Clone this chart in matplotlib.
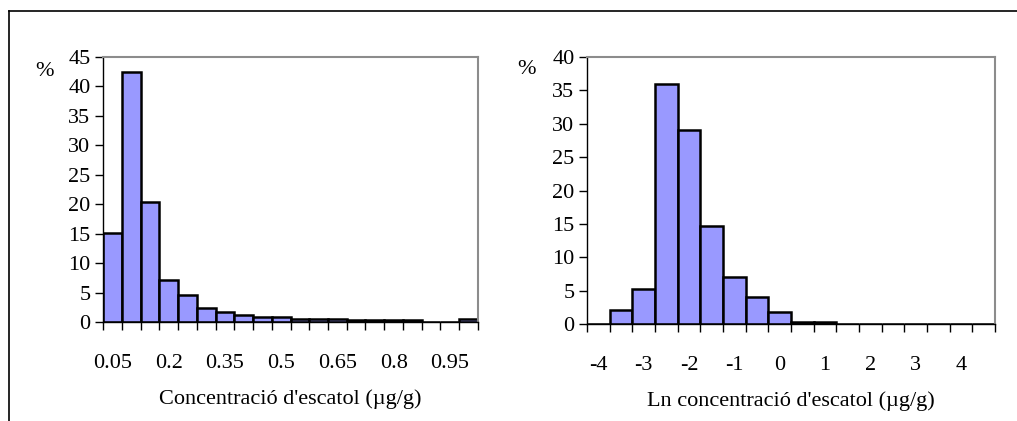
import matplotlib
matplotlib.use("Agg")
import matplotlib.pyplot as plt
from matplotlib.lines import Line2D

plt.rcParams["font.family"] = ["Liberation Serif", "DejaVu Serif"]
plt.rcParams["font.size"] = 16

# Histograma de la concentració (µg/g)
conc_cats = ["0.05", "0.1", "0.15", "0.2", "0.25", "0.3", "0.35", "0.4", "0.45", "0.5",
             "0.55", "0.6", "0.65", "0.7", "0.75", "0.8", "0.85", "0.9", "0.95", "1"]
conc_pct = [15.1, 42.4, 20.4, 7.1, 4.5, 2.4, 1.7, 1.2, 0.85, 0.85,
            0.55, 0.55, 0.55, 0.3, 0.3, 0.3, 0.3, 0.0, 0.0, 0.55]
conc_label_step = 3

# Histograma del logaritme
ln_cats = ["-4", "-3.5", "-3", "-2.5", "-2", "-1.5", "-1", "-0.5", "0",
           "0.5", "1", "1.5", "2", "2.5", "3", "3.5", "4", "4.5"]
ln_pct = [0.0, 2.1, 5.3, 35.9, 29.1, 14.7, 7.1, 4.0, 1.8,
          0.3, 0.3, 0.0, 0.0, 0.0, 0.0, 0.0, 0.0, 0.0]
ln_label_step = 2

BAR_COLOR = "#9999FF"
GRID_GRAY = "#8c8c8c"

fig = plt.figure(figsize=(10.17, 4.21), dpi=100)


def histo(ax, cats, vals, step, ymax, xlabel):
    n = len(cats)
    pos = list(range(n))
    ax.bar(pos, vals, width=1.0, color=BAR_COLOR, edgecolor="black", linewidth=1.8)
    ax.set_xlim(-0.5, n - 0.5)
    ax.set_ylim(0, ymax)
    ax.set_yticks(range(0, ymax + 1, 5))
    # marques a les fronteres de les categories, etiquetes al centre
    ax.set_xticks([i - 0.5 for i in range(n + 1)], minor=True)
    ax.set_xticks(pos[::step])
    ax.set_xticklabels(cats[::step])
    ax.tick_params(axis="x", which="major", length=0, pad=23)
    ax.tick_params(axis="x", which="minor", length=6, width=1, direction="out")
    ax.tick_params(axis="y", length=6, width=1, direction="out", pad=3)
    for s in ("left", "bottom"):
        ax.spines[s].set_color("black")
        ax.spines[s].set_linewidth(1.0)
    for s in ("top", "right"):
        ax.spines[s].set_color(GRID_GRAY)
        ax.spines[s].set_linewidth(1.5)
    ax.set_xlabel(xlabel, labelpad=12)


ax1 = fig.add_axes([0.1013, 0.2352, 0.3687, 0.6295])
histo(ax1, conc_cats, conc_pct, conc_label_step, 45, "Concentració d'escatol (µg/g)")

ax2 = fig.add_axes([0.5772, 0.2304, 0.4012, 0.634])
histo(ax2, ln_cats, ln_pct, ln_label_step, 40, "Ln concentració d'escatol (µg/g)")

fig.text(44 / 1017, 1 - 72 / 421, "%", ha="center", va="center")
fig.text(527 / 1017, 1 - 70 / 421, "%", ha="center", va="center")

# marc de la figura (només dalt i a l'esquerra)
fig.add_artist(Line2D([9 / 1017, 1.0], [1 - 11 / 421, 1 - 11 / 421], color="black", lw=1.2))
fig.add_artist(Line2D([9 / 1017, 9 / 1017], [0.0, 1 - 11 / 421], color="black", lw=1.2))

fig.savefig("out.png", dpi=100)
